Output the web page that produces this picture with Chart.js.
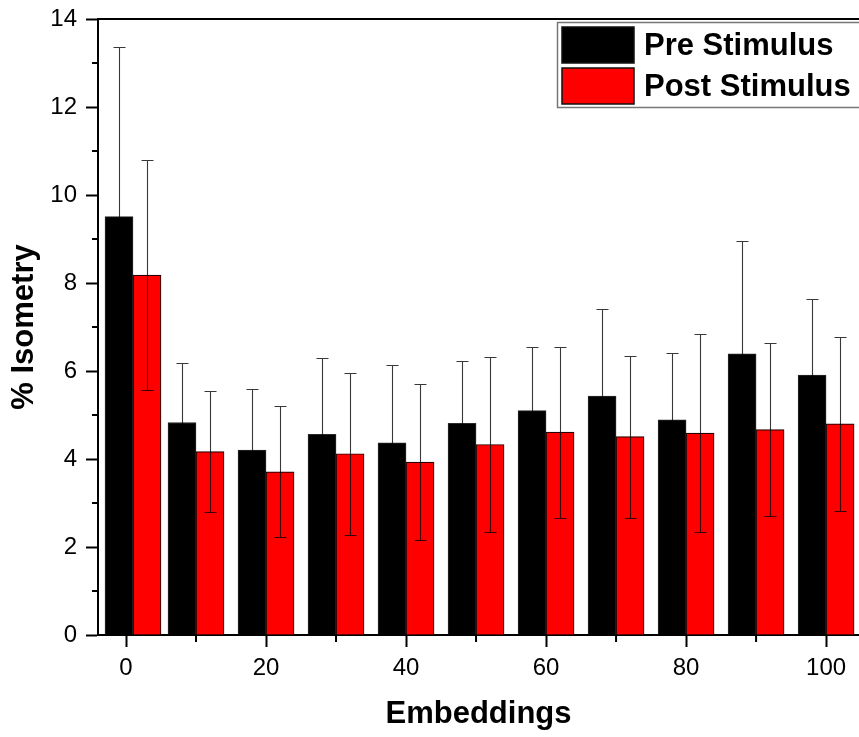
<!DOCTYPE html>
<html>
<head>
<meta charset="utf-8">
<script src="https://cdn.jsdelivr.net/npm/chart.js@4/dist/chart.umd.min.js"></script>
<style>
  html, body { margin: 0; padding: 0; background: #fff; }
  #wrap { width: 859px; height: 737px; position: relative; }
</style>
</head>
<body>
<div id="wrap"><canvas id="c" width="859" height="737"></canvas></div>
<script>
// Embedding counts on the x axis
const embeddings = [1, 10, 20, 30, 40, 50, 60, 70, 80, 90, 100];

// Mean % isometry and standard deviation, before and after the stimulus
const preMean  = [9.51, 4.83, 4.20, 4.56, 4.37, 4.81, 5.10, 5.43, 4.89, 6.39, 5.91];
const preSD    = [3.85, 1.35, 1.40, 1.74, 1.76, 1.42, 1.45, 1.99, 1.51, 2.56, 1.73];
const postMean = [8.18, 4.17, 3.71, 4.12, 3.93, 4.33, 4.61, 4.51, 4.59, 4.67, 4.80];
const postSD   = [2.62, 1.38, 1.49, 1.84, 1.77, 1.98, 1.94, 1.84, 2.25, 1.96, 1.98];

// Axis ticks: labelled majors and unlabelled minors
const xMajor = [0, 20, 40, 60, 80, 100];
const xMinor = [10, 30, 50, 70, 90];
const yMajor = [0, 2, 4, 6, 8, 10, 12, 14];
const yMinor = [1, 3, 5, 7, 9, 11, 13];

const FONT = "'Liberation Sans', Arial, sans-serif";

// Minor ticks, top frame line, error bars and the boxed legend
const decorations = {
  id: 'decorations',
  afterDatasetsDraw(chart) {
    const ctx = chart.ctx;
    const ys = chart.scales.y;
    ctx.save();
    ctx.strokeStyle = 'rgba(0,0,0,0.78)';
    ctx.lineWidth = 1.1;
    chart.data.datasets.forEach((ds, di) => {
      const meta = chart.getDatasetMeta(di);
      meta.data.forEach((bar, i) => {
        const m = ds.data[i].y, s = ds.sd[i];
        const yTop = Math.round(ys.getPixelForValue(m + s)) + 0.5;
        const yBot = Math.round(ys.getPixelForValue(m - s)) + 0.5;
        const x = Math.round(bar.x) + 0.5;
        ctx.beginPath();
        ctx.moveTo(x, yTop); ctx.lineTo(x, yBot);
        ctx.moveTo(x - 6, yTop); ctx.lineTo(x + 6, yTop);
        ctx.moveTo(x - 6, yBot); ctx.lineTo(x + 6, yBot);
        ctx.stroke();
      });
    });
    ctx.restore();
  },
  afterDraw(chart) {
    const ctx = chart.ctx;
    const a = chart.chartArea;
    const xs = chart.scales.x, ys = chart.scales.y;
    ctx.save();
    ctx.strokeStyle = '#000';
    ctx.lineWidth = 2;
    // top frame line
    ctx.beginPath();
    ctx.moveTo(a.left, a.top); ctx.lineTo(chart.width, a.top);
    ctx.stroke();
    // minor ticks
    ctx.beginPath();
    yMinor.forEach(v => {
      const y = ys.getPixelForValue(v);
      ctx.moveTo(a.left - 6, y); ctx.lineTo(a.left, y);
    });
    xMinor.forEach(v => {
      const x = xs.getPixelForValue(v);
      ctx.moveTo(x, a.bottom); ctx.lineTo(x, a.bottom + 7);
    });
    ctx.stroke();

    // legend box
    const lx = 557, ly = a.top + 3;
    ctx.fillStyle = '#fff';
    ctx.fillRect(lx, ly, chart.width - lx + 5, 85);
    ctx.strokeStyle = '#777';
    ctx.lineWidth = 1.5;
    ctx.strokeRect(lx + 0.5, ly + 0.5, chart.width - lx + 5, 85);
    ctx.font = "bold 31px " + FONT;
    ctx.textBaseline = 'middle';
    ctx.textAlign = 'left';
    chart.data.datasets.forEach((ds, i) => {
      const sy = ly + 5 + i * 41;
      ctx.fillStyle = ds.backgroundColor;
      ctx.fillRect(lx + 5, sy, 72, 36);
      ctx.strokeStyle = '#111';
      ctx.lineWidth = 1.5;
      ctx.strokeRect(lx + 5, sy, 72, 36);
      ctx.fillStyle = '#000';
      ctx.fillText(ds.label, lx + 87, sy + 19);
    });
    ctx.restore();
  }
};

const ctx = document.getElementById('c').getContext('2d');
new Chart(ctx, {
  type: 'bar',
  data: {
    datasets: [
      {
        label: 'Pre Stimulus',
        data: embeddings.map((x, i) => ({ x: x, y: preMean[i] })),
        sd: preSD,
        backgroundColor: '#000000',
        borderColor: '#2a2a2a',
        borderWidth: 1
      },
      {
        label: 'Post Stimulus',
        data: embeddings.map((x, i) => ({ x: x, y: postMean[i] })),
        sd: postSD,
        backgroundColor: '#ff0000',
        borderColor: '#2a0000',
        borderWidth: 1.2
      }
    ]
  },
  options: {
    responsive: false,
    animation: false,
    devicePixelRatio: 1,
    layout: { padding: { top: 19, right: 0, left: 0, bottom: 0 } },
    datasets: { bar: { barThickness: 28 } },
    plugins: { legend: { display: false }, tooltip: { enabled: false } },
    scales: {
      x: {
        type: 'linear',
        min: -4,
        max: 104.7,
        offset: false,
        grid: { offset: false, drawOnChartArea: false, tickLength: 12, tickWidth: 2, tickColor: '#000' },
        border: { display: true, color: '#000', width: 2 },
        ticks: { font: { family: FONT, size: 24 }, color: '#000', padding: 7, maxRotation: 0, autoSkip: false },
        afterBuildTicks: s => { s.ticks = xMajor.map(v => ({ value: v })); },
        afterFit: s => { s.height = 102; },
        title: {
          display: true, text: 'Embeddings', color: '#000',
          font: { family: FONT, size: 31, weight: 'bold' },
          padding: { top: 0, bottom: 4 }
        }
      },
      y: {
        min: 0,
        max: 14,
        grid: { drawOnChartArea: false, tickLength: 12, tickWidth: 2, tickColor: '#000' },
        border: { display: true, color: '#000', width: 2 },
        ticks: { font: { family: FONT, size: 24, lineHeight: 0.8 }, color: '#000', padding: 9 },
        afterBuildTicks: s => { s.ticks = yMajor.map(v => ({ value: v })); },
        afterFit: s => { s.width = 98; },
        title: {
          display: true, text: '% Isometry', color: '#000',
          font: { family: FONT, size: 31, weight: 'bold' },
          padding: { top: 6, bottom: 0 }
        }
      }
    }
  },
  plugins: [decorations]
});
</script>
</body>
</html>
